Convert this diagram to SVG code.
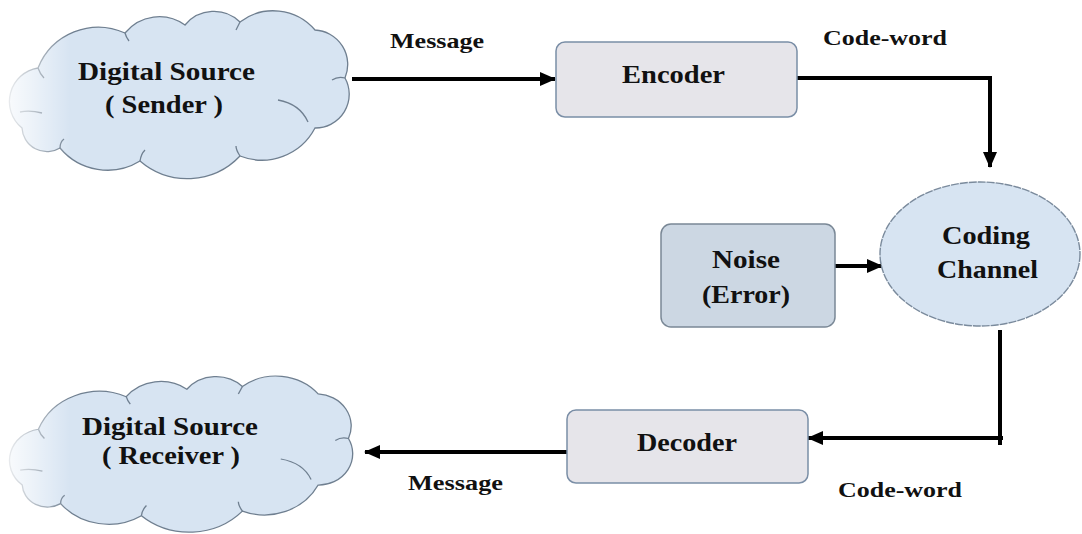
<svg xmlns="http://www.w3.org/2000/svg" width="1082" height="534" viewBox="0 0 1082 534">
  <style>
    .lbl { font-family: "Liberation Serif", "Times New Roman", serif; font-weight: bold; fill: #111; }
    .cloud { fill: #d7e4f2; stroke: #6f7f90; stroke-width: 1.3; }
    .cloud-in { fill: none; stroke: #6f7f90; stroke-width: 1.3; }
    .box { fill: #e6e5ea; stroke: #7a8ea6; stroke-width: 1.5; }
    .noise { fill: #ccd7e3; stroke: #7a8896; stroke-width: 1.5; }
    .chan { fill: #d7e4f2; stroke: #7a8a9c; stroke-width: 1.4; stroke-dasharray: 8 1; }
    .wire { fill: none; stroke: #000; stroke-width: 4; }
  </style>
  <defs>
    <marker id="head" viewBox="0 0 16 14" refX="15" refY="7" markerWidth="16" markerHeight="14" markerUnits="userSpaceOnUse" orient="auto">
      <path d="M0,0 L16,7 L0,14 Z" fill="#000"/>
    </marker>
    <linearGradient id="fade" x1="0" y1="0" x2="1" y2="0">
      <stop offset="0" stop-color="#fff" stop-opacity="0.95"/>
      <stop offset="0.4" stop-color="#fff" stop-opacity="0.6"/>
      <stop offset="1" stop-color="#fff" stop-opacity="0"/>
    </linearGradient>
    <!-- scalloped cloud outline, drawn in the upper cloud's coordinates -->
    <g id="cloudShape">
      <path class="cloud" d="M22,128 A34,34 0 0 1 38,68 A65,65 0 0 1 125,33 A44,44 0 0 1 185,25 A37.5,37.5 0 0 1 240,22 A55,55 0 0 1 315,30 A34.6,34.6 0 0 1 345,78 A33.7,33.7 0 0 1 315,128 A60,60 0 0 1 240,156 A72.5,72.5 0 0 1 140,161 A62,62 0 0 1 60,148 A25,25 0 0 1 22,128 Z"/>
      <path class="cloud-in" d="M20,112 Q30,110 42,113"/>
      <path class="cloud-in" d="M38,68 Q40,74 44,78"/>
      <path class="cloud-in" d="M125,33 Q126,37 129,41"/>
      <path class="cloud-in" d="M240,22 Q238,26 236,30"/>
      <path class="cloud-in" d="M345,78 Q338,76 332,80"/>
      <path class="cloud-in" d="M278,100 Q300,104 308,122"/>
      <path class="cloud-in" d="M140,161 Q141,154 145,150"/>
      <path class="cloud-in" d="M240,156 Q236,150 236,146"/>
      <path class="cloud-in" d="M60,148 Q60,142 64,139"/>
    </g>
  </defs>

  <rect width="1082" height="534" fill="#fff"/>

  <!-- connectors -->
  <g id="connectors">
    <path class="wire" d="M352,79 H555" marker-end="url(#head)"/>
    <path class="wire" d="M797,78 H990 V167" marker-end="url(#head)"/>
    <path class="wire" d="M835,266 H882" stroke-width="5" marker-end="url(#head)"/>
    <path class="wire" d="M1000,330 V445"/>
    <path class="wire" d="M1003,438 H808" marker-end="url(#head)"/>
    <path class="wire" d="M567,452 H365" marker-end="url(#head)"/>
  </g>

  <!-- edge labels -->
  <g id="edge-labels">
    <text class="lbl" x="390" y="48" font-size="22" textLength="94" lengthAdjust="spacingAndGlyphs">Message</text>
    <text class="lbl" x="823" y="45" font-size="22" textLength="124" lengthAdjust="spacingAndGlyphs">Code-word</text>
    <text class="lbl" x="408" y="490" font-size="22" textLength="95" lengthAdjust="spacingAndGlyphs">Message</text>
    <text class="lbl" x="838" y="497" font-size="22" textLength="124" lengthAdjust="spacingAndGlyphs">Code-word</text>
  </g>

  <g id="sender">
    <use href="#cloudShape"/>
    <text class="lbl" x="78" y="80" font-size="26" textLength="177" lengthAdjust="spacingAndGlyphs">Digital Source</text>
    <text class="lbl" x="105" y="113" font-size="26" textLength="118" lengthAdjust="spacingAndGlyphs">( Sender )</text>
  </g>

  <g id="receiver">
    <use href="#cloudShape" transform="translate(0,366) scale(1.01,0.93)"/>
    <text class="lbl" x="82" y="435" font-size="26" textLength="176" lengthAdjust="spacingAndGlyphs">Digital Source</text>
    <text class="lbl" x="102" y="464" font-size="26" textLength="138" lengthAdjust="spacingAndGlyphs">( Receiver )</text>
  </g>

  <!-- soft fade on the left edge of both clouds -->
  <rect x="0" y="0" width="70" height="534" fill="url(#fade)"/>

  <g id="encoder">
    <rect class="box" x="556" y="42" width="241" height="75" rx="9"/>
    <text class="lbl" x="622" y="83" font-size="26" textLength="103" lengthAdjust="spacingAndGlyphs">Encoder</text>
  </g>

  <g id="channel">
    <ellipse class="chan" cx="980" cy="254" rx="100" ry="72"/>
    <text class="lbl" x="942" y="244" font-size="26" textLength="88" lengthAdjust="spacingAndGlyphs">Coding</text>
    <text class="lbl" x="937" y="278" font-size="26" textLength="101" lengthAdjust="spacingAndGlyphs">Channel</text>
  </g>

  <g id="noise">
    <rect class="noise" x="661" y="224" width="174" height="103" rx="10"/>
    <text class="lbl" x="712" y="268" font-size="26" textLength="68" lengthAdjust="spacingAndGlyphs">Noise</text>
    <text class="lbl" x="702" y="303" font-size="26" textLength="88" lengthAdjust="spacingAndGlyphs">(Error)</text>
  </g>

  <g id="decoder">
    <rect class="box" x="567" y="410" width="241" height="73" rx="9"/>
    <text class="lbl" x="637" y="451" font-size="26" textLength="100" lengthAdjust="spacingAndGlyphs">Decoder</text>
  </g>
</svg>
